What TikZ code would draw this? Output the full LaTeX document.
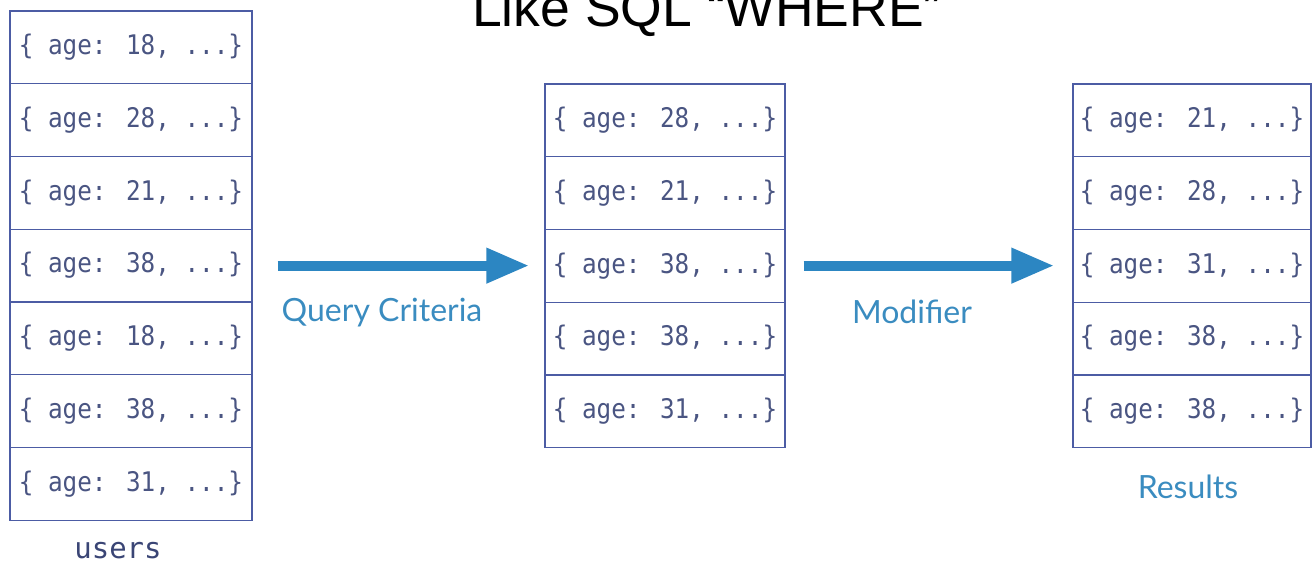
\documentclass[tikz,border=0pt]{standalone}
\usepackage{fontspec}
\setmainfont{Liberation Sans}
\newfontfamily\recfont[FakeStretch=0.9]{DejaVu Sans Mono}
\newfontfamily\collfont{DejaVu Sans Mono}
\newfontfamily\labelfont{Lato}
\usetikzlibrary{arrows.meta}

\definecolor{rowline}{HTML}{4C5CA4}
\definecolor{rowtext}{HTML}{4A5582}
\definecolor{collname}{HTML}{3A4575}
\definecolor{flowblue}{HTML}{2C86C2}
\definecolor{labelblue}{HTML}{3A8CC0}

\tikzset{
  record/.style={draw=rowline, line width=1.4pt, rectangle, inner sep=0pt,
    minimum height=72.75pt, text=rowtext,
    font=\recfont\fontsize{27}{32}\selectfont},
  flow/.style={draw=flowblue, line width=10pt,
    -{Triangle[length=43pt,width=33pt]}},
  steplabel/.style={text=labelblue, font=\labelfont\fontsize{32}{38}\selectfont},
}

\begin{document}
\begin{tikzpicture}[x=1pt,y=-1pt]
\useasboundingbox (0,0) rectangle (1316,570);

% heading, partly running off the top edge
\node[anchor=base, font=\fontsize{53.5}{60}\selectfont] (title) at (707,26) {Like SQL ``WHERE''};

% the users collection
\foreach \a [count=\i] in {18,28,21,38,18,38,31}
  \node[record, minimum width=242pt] (L\i) at (131,{11+36.375+72.75*(\i-1)})
    {\{ age: \a, ...\}};
\node[text=collname, font=\collfont\fontsize{29}{34}\selectfont] (users) at (118,551) {users};

% documents that pass the criteria
\foreach \a [count=\i] in {28,21,38,38,31}
  \node[record, minimum width=240pt] (M\i) at (665,{84+36.375+72.75*(\i-1)})
    {\{ age: \a, ...\}};

% sorted results
\foreach \a [count=\i] in {21,28,31,38,38}
  \node[record, minimum width=238pt] (R\i) at (1192,{84+36.375+72.75*(\i-1)})
    {\{ age: \a, ...\}};
\node[steplabel] (results) at (1188,487) {Results};

% processing stages
\draw[flow, shorten <=25pt, shorten >=15pt] (L4.east) -- (L4.east -| M3.west);
\node[steplabel] (criteria) at (382,313) {Query Criteria};

\draw[flow, shorten <=18pt, shorten >=18pt] (L4.east -| M3.east) -- (L4.east -| R3.west);
\node[steplabel] (modifier) at (912,312) {Modifier};
\end{tikzpicture}
\end{document}
